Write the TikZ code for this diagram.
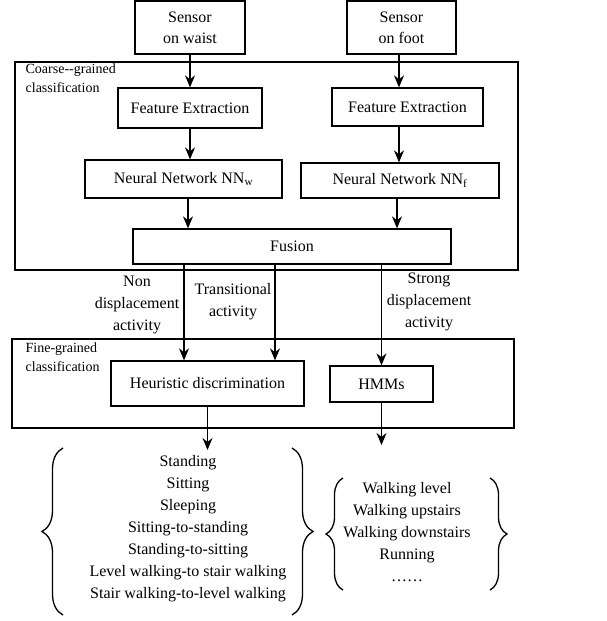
\documentclass[tikz,border=0pt]{standalone}
\usepackage{fontspec}
\setmainfont{Liberation Serif}
\usetikzlibrary{arrows.meta,positioning,decorations.pathreplacing}

\begin{document}
\begin{tikzpicture}[
  x=1pt, y=-1pt,
  line width=1.3pt,
  box/.style={draw, align=center, inner sep=2pt, font=\rmfamily\fontsize{16}{21}\selectfont},
  frame/.style={draw, inner sep=0pt},
  note/.style={align=left, font=\rmfamily\fontsize{14}{19}\selectfont, inner sep=0pt, anchor=north west},
  tag/.style={align=center, font=\rmfamily\fontsize{16}{22}\selectfont, inner sep=0pt},
  items/.style={align=center, font=\rmfamily\fontsize{16}{22}\selectfont, inner sep=0pt},
  curly/.style={decorate, decoration={brace, amplitude=#1}},
  arr/.style={-{Stealth[length=12pt,width=10pt]}}
]
\useasboundingbox (0,0) rectangle (607,621);
% sensors
\node[box, minimum width=110pt, minimum height=53pt] (waist) at (190,27.5) {Sensor\\on waist};
\node[box, minimum width=109pt, minimum height=53pt] (foot) at (401.5,27.5) {Sensor\\on foot};
% coarse-grained stage
\node[frame, minimum width=503pt, minimum height=208pt] (coarse) at (266.5,166) {};
\node[note] (coarselbl) at (25,63) {Coarse-{}-grained\\classification};
\node[box, minimum width=144pt, minimum height=40pt] (fewaist) at (190,108) {Feature Extraction};
\node[box, minimum width=151pt, minimum height=38pt] (fefoot) at (407.5,107) {Feature Extraction};
\node[box, minimum width=197pt, minimum height=38pt] (nnwaist) at (183.5,179) {Neural Network NN\textsubscript{w}};
\node[box, minimum width=198pt, minimum height=35pt] (nnfoot) at (400,180.5) {Neural Network NN\textsubscript{f}};
\node[box, minimum width=318pt, minimum height=35pt] (fusion) at (292,246.5) {Fusion};
% activity labels
\node[tag] (nondisp) at (137,305) {Non\\displacement\\activity};
\node[tag] (trans) at (233,302) {Transitional\\activity};
\node[tag] (strong) at (429,302) {Strong\\displacement\\activity};
% fine-grained stage
\node[frame, minimum width=502pt, minimum height=89pt] (fine) at (263,383.5) {};
\node[note] (finelbl) at (25,342) {Fine-grained\\classification};
\node[box, minimum width=193pt, minimum height=45pt] (heur) at (207.5,383.5) {Heuristic discrimination};
\node[box, minimum width=103pt, minimum height=36pt] (hmm) at (381.5,384) {HMMs};
% outputs
\node[items] (staticlist) at (188,529) {Standing\\Sitting\\Sleeping\\Sitting-to-standing\\Standing-to-sitting\\Level walking-to stair walking\\Stair walking-to-level walking};
\node[items] (dynlist) at (407,532.5) {Walking level\\Walking upstairs\\Walking downstairs\\Running\\……};
\coordinate (staticin) at (207.5,450);
\coordinate (dynin) at (381.5,445);
\draw[curly=21pt] (63,615) -- (63,448);
\draw[curly=21pt] (292,448) -- (292,615);
\draw[curly=17pt] (343,590) -- (343,478);
\draw[curly=17pt] (490,478) -- (490,590);
% arrows
\draw[arr] (waist) -- (fewaist);
\draw[arr] ([xshift=-2.5pt]foot.south) -- ([xshift=-2.5pt]foot.south |- fefoot.north);
\draw[arr] (fewaist.south) -- (fewaist.south |- nnwaist.north);
\draw[arr] ([xshift=-8.5pt]fefoot.south) -- ([xshift=-8.5pt]fefoot.south |- nnfoot.north);
\draw[arr] ([xshift=4.5pt]nnwaist.south) -- ([xshift=4.5pt]nnwaist.south |- fusion.north);
\draw[arr] ([xshift=-3pt]nnfoot.south) -- ([xshift=-3pt]nnfoot.south |- fusion.north);
\draw[arr] ([xshift=-108pt]fusion.south) -- ([xshift=-108pt]fusion.south |- heur.north);
\draw[arr] ([xshift=-17pt]fusion.south) -- ([xshift=-17pt]fusion.south |- heur.north);
\draw[arr] (fusion.south -| hmm.north) -- (hmm.north);
\draw[arr] (heur) -- (staticin);
\draw[arr] (hmm) -- (dynin);
\end{tikzpicture}
\end{document}
